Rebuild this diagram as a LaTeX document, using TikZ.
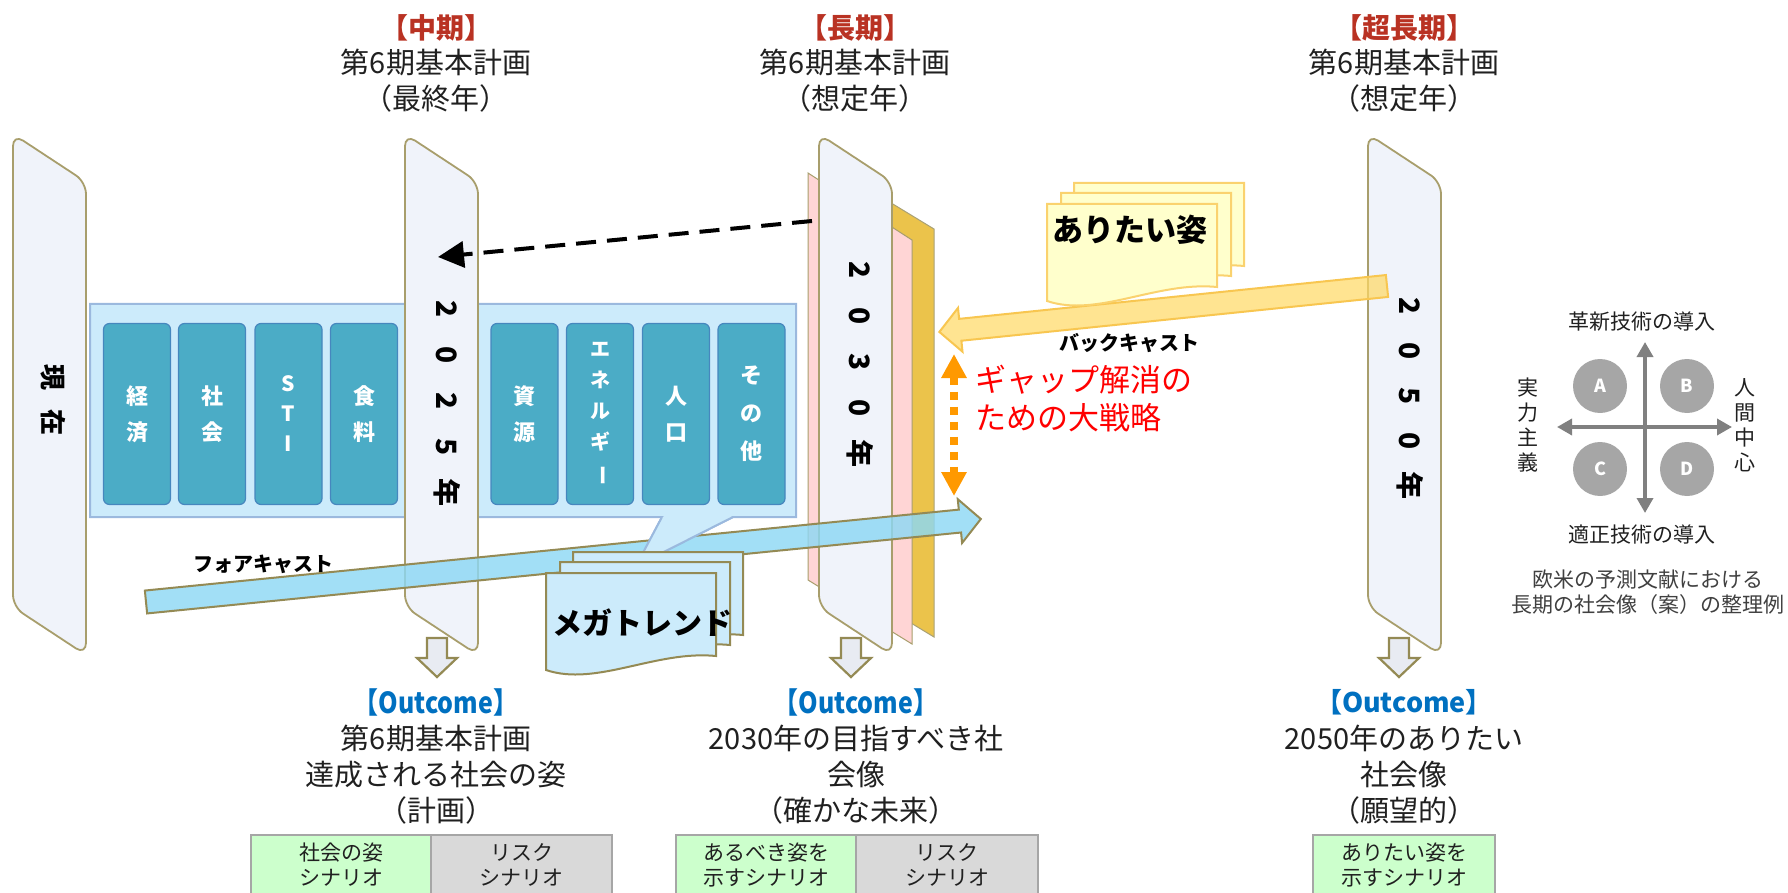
\documentclass[tikz,border=0pt]{standalone}
\usepackage{fontspec}
\setmainfont{Noto Sans CJK JP}
\newfontfamily\jpn[FakeStretch=0.86]{Noto Sans CJK JP}
\usetikzlibrary{arrows.meta}
\definecolor{panelfill}{RGB}{240,243,250}
\definecolor{panelline}{RGB}{168,158,108}
\definecolor{olivec}{RGB}{148,138,84}
\definecolor{downfill}{RGB}{232,235,242}
\definecolor{calfill}{RGB}{204,235,251}
\definecolor{calline}{RGB}{155,185,222}
\definecolor{boxfill}{RGB}{75,172,198}
\definecolor{boxline}{RGB}{70,135,190}
\definecolor{fcfill}{RGB}{141,216,244}
\definecolor{pinkp}{RGB}{255,213,213}
\definecolor{goldp}{RGB}{235,195,75}
\definecolor{wishfill}{RGB}{255,255,204}
\definecolor{wishline}{RGB}{250,210,110}
\definecolor{bcfill}{RGB}{255,217,102}
\definecolor{bcline}{RGB}{248,198,80}
\definecolor{gaporange}{RGB}{255,153,0}
\definecolor{titlered}{RGB}{185,50,35}
\definecolor{outblue}{RGB}{0,112,192}
\definecolor{textdark}{RGB}{32,32,32}
\definecolor{quadgrey}{RGB}{166,166,166}
\definecolor{axisgrey}{RGB}{128,128,128}
\definecolor{noteg}{RGB}{64,64,64}
\definecolor{cellgreen}{RGB}{204,255,204}
\definecolor{cellgrey}{RGB}{217,217,217}
\definecolor{cellline}{RGB}{166,166,166}
\newcommand\fs[2]{\fontsize{#1}{#2}\selectfont}
\newcommand\pc[2][46pt]{\makebox[#1]{#2}}
\begin{document}
\begin{tikzpicture}[x=1pt,y=-1pt,
  panel/.style={fill=panelfill,draw=panelline,line width=1.8pt,rounded corners=12pt},
  downarr/.style={fill=downfill,draw=olivec,line width=2.2pt},
  callout/.style={fill=calfill,draw=calline,line width=2pt},
  cat/.style={draw=boxline,fill=boxfill,rounded corners=6pt,minimum width=67pt,minimum height=181pt,
              text=white,align=center,line width=1.2pt,inner sep=0pt},
  fcarrow/.style={fill=fcfill,fill opacity=0.82,draw=olivec,line width=2pt},
  bcarrow/.style={fill=bcfill,fill opacity=0.72,draw=bcline,line width=2pt},
  megadocst/.style={fill=calfill,draw=olivec,line width=2pt},
  wishdocst/.style={fill=wishfill,draw=wishline,line width=2pt},
  ptext/.style={font=\bfseries\fs{28}{30},text=black,inner sep=0pt,rotate=-90},
  title/.style={font=\fs{29}{36},text=textdark,align=center,inner sep=0pt},
  ttl/.style={font=\bfseries\fs{28}{30},text=titlered,inner sep=0pt},
  outc/.style={font=\jpn\bfseries\fs{29}{30},text=outblue,inner sep=0pt},
  cell/.style={draw=cellline,line width=1.6pt,minimum width=180pt,minimum height=60pt,
               font=\fs{21}{25},text=textdark,align=center,inner sep=0pt},
  quad/.style={circle,fill=quadgrey,minimum size=54pt,inner sep=0pt,text=white,font=\bfseries\fs{18}{18}},
  qlab/.style={font=\fs{21}{25},text=textdark,align=center,inner sep=0pt},
  panelpic/.pic={\draw[panel] (0,236) -- (0,0) -- (73,48) -- (73,521) -- (0,473) -- cycle;},
  downpic/.pic={\draw[downarr] (-10,0) -- (10,0) -- (10,20) -- (20,20) -- (0,39) -- (-20,20) -- (-10,20) -- cycle;},
  megadoc/.pic={\draw[megadocst] (0,0) -- (170,0) -- (170,83) .. controls (110,77) and (50,114) .. (0,97) -- cycle;},
  wishdoc/.pic={\draw[wishdocst] (0,0) -- (170,0) -- (170,83) .. controls (110,77) and (50,114) .. (0,97) -- cycle;}
]
\useasboundingbox (0,0) rectangle (1788,893);

% panel: now
\pic at (13,134) {panelpic};
\node[ptext,font=\bfseries\fs{26}{30}] (now) at (53,400) {\pc[45pt]{現}\pc[45pt]{在}};

% callout container
\draw[callout] (90,304) -- (796,304) -- (796,517) -- (733,517) -- (636,566) -- (662,517) -- (90,517) -- cycle;
\node[cat,font=\bfseries\fs{22}{36}] (b1) at (137,414) {経\\済};
\node[cat,font=\bfseries\fs{22}{36}] (b2) at (212,414) {社\\会};
\node[cat,font=\bfseries\fs{21}{30}] (b3) at (288.5,414) {S\\T\\I};
\node[cat,font=\bfseries\fs{22}{36}] (b4) at (364,414) {食\\料};
\node[cat,font=\bfseries\fs{22}{36}] (b5) at (524.5,414) {資\\源};
\node[cat,font=\bfseries\fs{20}{31}] (b6) at (600,414) {エ\\ネ\\ル\\ギ\\\rotatebox[origin=c]{-90}{ー}};
\node[cat,font=\bfseries\fs{22}{36}] (b7) at (676,414) {人\\口};
\node[cat,font=\bfseries\fs{22}{38}] (b8) at (751.5,414) {そ\\の\\他};

% panel 2025
\pic at (405,134) {panelpic};
\node[ptext] (y2025) at (447,401) {\pc{2}\pc{0}\pc{2}\pc{5}\pc{年}};

% panel 2030 with layers
\draw[fill=goldp,draw=olivec!80,line width=1pt] (850,178) -- (934,229) -- (934,637) -- (850,586) -- cycle;
\draw[fill=pinkp,draw=panelline,line width=1pt] (808,173) -- (912,240) -- (912,644) -- (808,580) -- cycle;
\pic at (819,134) {panelpic};
\node[ptext] (y2030) at (860,362) {\pc{2}\pc{0}\pc{3}\pc{0}\pc{年}};

% panel 2050
\pic at (1368,134) {panelpic};
\node[ptext] (y2050) at (1410,396) {\pc[45pt]{2}\pc[45pt]{0}\pc[45pt]{5}\pc[45pt]{0}\pc[45pt]{年}};

% down arrows
\pic at (437,638) {downpic};
\pic at (851,638) {downpic};
\pic at (1399,638) {downpic};

% forecast arrow
\begin{scope}[shift={(146,602)},rotate=5.68]
  \draw[fcarrow] (0,-11.5) -- (818,-11.5) -- (818,-22) -- (839,0) -- (818,22) -- (818,11.5) -- (0,11.5) -- cycle;
\end{scope}
\node[font=\bfseries\fs{20}{20},inner sep=0pt] (fclabel) at (263,564) {フォアキャスト};

% callout tail on top of arrow
\fill[calfill] (733,517) -- (636,566) -- (662,517) -- cycle;
\draw[calline,line width=2pt] (733,517) -- (636,566) -- (662,517);

% megatrend docs
\pic at (573,552) {megadoc};
\pic at (560,562) {megadoc};
\pic at (546,573) {megadoc};
\node[font=\bfseries\fs{30}{30},inner sep=0pt] (mega) at (642,623) {メガトレンド};

% backcast arrow
\begin{scope}[shift={(1387,286)},rotate=185.86]
  \draw[bcarrow] (0,-11) -- (429,-11) -- (429,-22) -- (450,0) -- (429,22) -- (429,11) -- (0,11) -- cycle;
\end{scope}
\node[font=\bfseries\fs{20}{20},inner sep=0pt] (bclabel) at (1129,343) {バックキャスト};

% wish docs
\pic at (1074,183) {wishdoc};
\pic at (1061,193) {wishdoc};
\pic at (1047,204) {wishdoc};
\node[font=\bfseries\fs{31}{31},inner sep=0pt] (wish) at (1130,230) {ありたい姿};

% dashed arrow
\coordinate (dstart) at (812,221);
\coordinate (dend) at (438,257);
\draw[line width=4pt,dash pattern=on 20pt off 11pt,-{Triangle[length=26pt,width=26pt]}] (dstart) -- (dend);

% gap arrow
\coordinate (gtop) at (954,354);
\coordinate (gbot) at (954,496);
\draw[draw=gaporange,line width=8pt,dash pattern=on 8pt off 7pt,
  {Triangle[length=24pt,width=24pt]}-{Triangle[length=24pt,width=24pt]}] (gtop) -- (gbot);
\node[anchor=west,text=red,font=\fs{31}{38},align=left,inner sep=0pt] (gap) at (975,399) {ギャップ解消の\\ための大戦略};

% titles
\node[ttl] (t1a) at (436,28) {【中期】};
\node[title] (t1b) at (436,81) {第6期基本計画\\（最終年）};
\node[ttl] (t2a) at (855,28) {【長期】};
\node[title] (t2b) at (855,81) {第6期基本計画\\（想定年）};
\node[ttl] (t3a) at (1404,28) {【超長期】};
\node[title] (t3b) at (1404,81) {第6期基本計画\\（想定年）};

% outcomes
\node[outc] (o1a) at (436,702) {【Outcome】};
\node[title] (o1b) at (436,775) {第6期基本計画\\達成される社会の姿\\（計画）};
\node[outc] (o2a) at (856,702) {【Outcome】};
\node[title] (o2b) at (856,775) {2030年の目指すべき社\\会像\\（確かな未来）};
\node[outc,font=\bfseries\fs{27}{30}] (o3a) at (1404,702) {【Outcome】};
\node[title] (o3b) at (1404,775) {2050年のありたい\\社会像\\（願望的）};

% tables
\node[cell,fill=cellgreen] (c1a) at (341,865) {社会の姿\\シナリオ};
\node[cell,fill=cellgrey,minimum width=181pt] (c1b) at (521.5,865) {リスク\\シナリオ};
\node[cell,fill=cellgreen] (c2a) at (766,865) {あるべき姿を\\示すシナリオ};
\node[cell,fill=cellgrey,minimum width=182pt] (c2b) at (947,865) {リスク\\シナリオ};
\node[cell,fill=cellgreen,minimum width=182pt] (c3a) at (1404,865) {ありたい姿を\\示すシナリオ};

% quadrant diagram
\node[quad] (qa) at (1600,386) {A};
\node[quad] (qb) at (1687,386) {B};
\node[quad] (qc) at (1600,469) {C};
\node[quad] (qd) at (1687,469) {D};
\coordinate (qw) at (1557,427);
\coordinate (qe) at (1732,427);
\coordinate (qn) at (1645,342);
\coordinate (qs) at (1645,513);
\draw[axisgrey,line width=3.5pt,{Triangle[length=15pt,width=16pt]}-{Triangle[length=15pt,width=16pt]}] (qw) -- (qe);
\draw[axisgrey,line width=3.5pt,{Triangle[length=15pt,width=16pt]}-{Triangle[length=15pt,width=16pt]}] (qn) -- (qs);
\node[qlab] (qtop) at (1642,322) {革新技術の導入};
\node[qlab] (qbot) at (1642,535) {適正技術の導入};
\node[qlab] (qleft) at (1528,425) {実\\力\\主\\義};
\node[qlab] (qright) at (1745,425) {人\\間\\中\\心};
\node[qlab,text=noteg] (note) at (1648,592) {欧米の予測文献における\\長期の社会像（案）の整理例};
\end{tikzpicture}
\end{document}
